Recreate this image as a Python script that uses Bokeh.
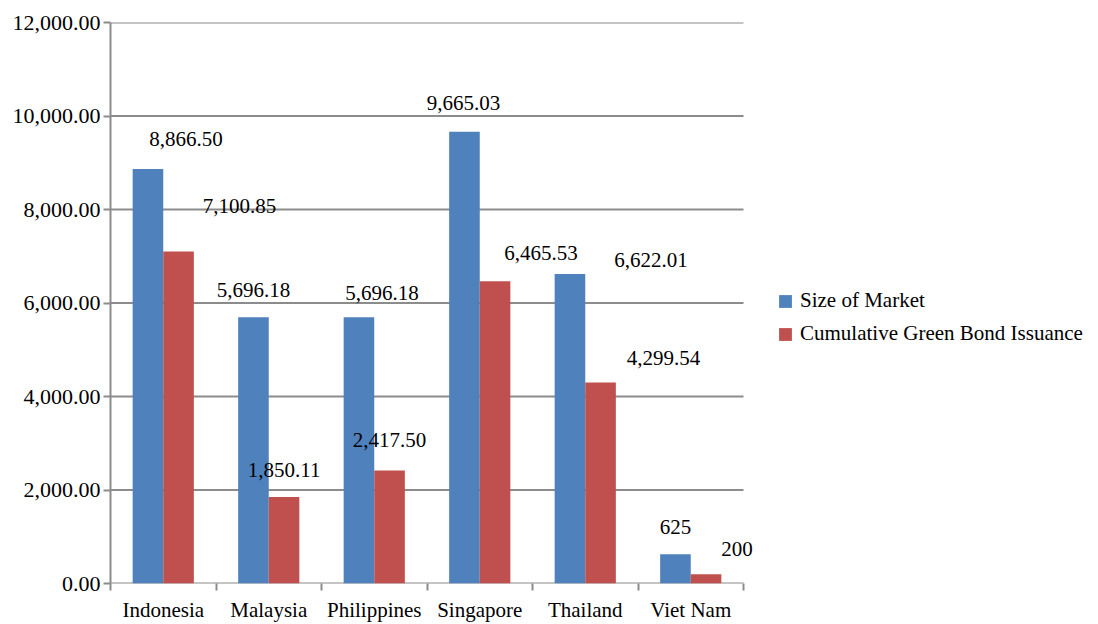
from bokeh.plotting import figure
from bokeh.models import (ColumnDataSource, FixedTicker, NumeralTickFormatter,
                          Range1d, Legend, LegendItem, LabelSet)
from bokeh.embed import file_html
from bokeh.resources import INLINE

# Data
countries = ["Indonesia", "Malaysia", "Philippines", "Singapore", "Thailand", "Viet Nam"]
size_of_market = [8866.50, 5696.18, 5696.18, 9665.03, 6622.01, 625]
green_bond_issuance = [7100.85, 1850.11, 2417.50, 6465.53, 4299.54, 200]
series_names = ["Size of Market", "Cumulative Green Bond Issuance"]
y_ticks = [0, 2000, 4000, 6000, 8000, 10000, 12000]

BLUE = "#4F81BD"
RED = "#C0504D"
GRID = "#8C8C8C"
FONT = "Liberation Serif"
BAR_W = 0.29

# layout: pixels per category, plus a little room on the right for the last label
CAT_PX = 105.5
EXTRA_PX = 12

# label placement (screen pixel offsets from the top of each bar)
blue_dx = [38, 0, 23, -1, 81, 0]
blue_dy = [30, 27, 24, 29, 14, 27]
red_dx = [61, 0, 0, 46, 63, 31]
red_dy = [46, 27, 30, 28, 24, 25]


def fmt(v):
    return f"{v:,.2f}" if v != int(v) else f"{int(v)}"


n = len(countries)
centers = [i + 0.5 for i in range(n)]
frame_w = round(CAT_PX * n + EXTRA_PX)

blue_src = ColumnDataSource(dict(
    x=[c - BAR_W / 2 for c in centers], top=size_of_market,
    label=[fmt(v) for v in size_of_market], dx=blue_dx, dy=blue_dy))
red_src = ColumnDataSource(dict(
    x=[c + BAR_W / 2 for c in centers], top=green_bond_issuance,
    label=[fmt(v) for v in green_bond_issuance], dx=red_dx, dy=red_dy))

p = figure(frame_width=frame_w, frame_height=561, output_backend="svg",
           toolbar_location=None,
           x_range=Range1d(0, frame_w / CAT_PX), y_range=Range1d(0, 12000),
           min_border_left=110, min_border_right=0, min_border_top=22,
           min_border_bottom=0)
p.outline_line_color = None
p.background_fill_color = "white"
p.border_fill_color = "white"

# horizontal gridlines, limited to the category span
p.segment(x0=[0] * len(y_ticks), x1=[n] * len(y_ticks), y0=y_ticks, y1=y_ticks,
          line_color=GRID, line_width=2)

r_blue = p.vbar(x="x", top="top", width=BAR_W, source=blue_src,
                fill_color=BLUE, line_color=None)
r_red = p.vbar(x="x", top="top", width=BAR_W, source=red_src,
               fill_color=RED, line_color=None)

for src in (blue_src, red_src):
    p.add_layout(LabelSet(x="x", y="top", text="label", source=src,
                          x_offset="dx", y_offset="dy",
                          text_align="center", text_baseline="middle",
                          text_font=FONT, text_font_size="21px",
                          text_color="black"))

# x axis: labels in the middle of each category, ticks at the boundaries
xa = p.xaxis[0]
xa.ticker = FixedTicker(ticks=centers, minor_ticks=list(range(n + 1)))
xa.major_label_overrides = {c: name for c, name in zip(centers, countries)}
xa.major_tick_line_color = None
xa.major_tick_out = 0
xa.major_tick_in = 0
xa.minor_tick_line_color = GRID
xa.minor_tick_line_width = 2
xa.minor_tick_out = 7
xa.minor_tick_in = 0
xa.axis_line_color = None
xa.major_label_standoff = 7
xa.major_label_text_font = FONT
xa.major_label_text_font_size = "21px"
xa.major_label_text_color = "black"

ya = p.yaxis[0]
ya.ticker = FixedTicker(ticks=y_ticks, minor_ticks=[])
ya.formatter = NumeralTickFormatter(format="0,0.00")
ya.major_tick_line_color = GRID
ya.major_tick_line_width = 2
ya.major_tick_out = 7
ya.major_tick_in = 0
ya.minor_tick_line_color = None
ya.axis_line_color = GRID
ya.axis_line_width = 2
ya.major_label_standoff = 3
ya.major_label_text_font = FONT
ya.major_label_text_font_size = "22px"
ya.major_label_text_color = "black"

p.xgrid.grid_line_color = None
p.ygrid.grid_line_color = None

legend = Legend(items=[LegendItem(label=series_names[0], renderers=[r_blue]),
                       LegendItem(label=series_names[1], renderers=[r_red])],
                location=(22, 237), border_line_color=None,
                background_fill_alpha=0, padding=0, margin=0, spacing=8,
                glyph_width=16, glyph_height=16, label_standoff=7,
                label_height=20, label_text_font=FONT,
                label_text_font_size="21px", label_text_color="black")
p.add_layout(legend, "right")

open("out.html", "w").write(file_html(p, INLINE))
